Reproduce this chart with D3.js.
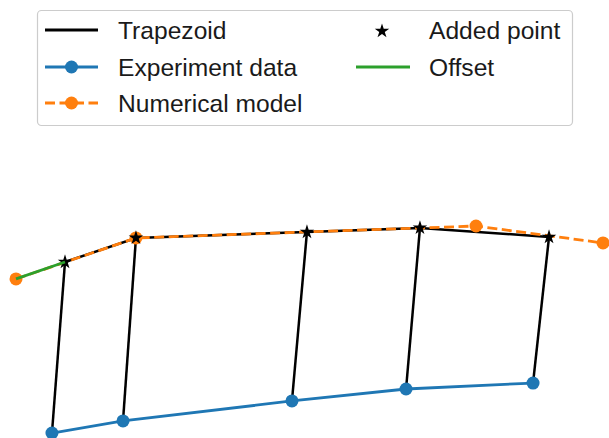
<!DOCTYPE html>
<html>
<head>
<meta charset="utf-8">
<script src="https://cdn.jsdelivr.net/npm/d3@7"></script>
<style>
  body { margin: 0; background: #fff; }
  text { font-family: "Liberation Sans", Arial, sans-serif; }
</style>
</head>
<body>
<div id="chart"></div>
<script>
// data (arbitrary length units, y up)
var experimentX = [3.67, 10.92, 28.16, 39.80, 52.76];
var experimentY = [0.10, 1.33, 3.37, 4.59, 5.20];

var addedX = [5.00, 12.24, 29.69, 41.22, 54.39];
var addedY = [17.55, 20.00, 20.61, 21.02, 20.10];

var modelX = [0.00, 12.24, 46.94, 59.90];
var modelY = [15.82, 20.00, 21.22, 19.49];

var offsetX = [0.00, 5.00];
var offsetY = [15.82, 17.55];

var legendLabels = ["Trapezoid", "Experiment data", "Numerical model", "Added point", "Offset"];

var svgWidth = 609;
var svgHeight = 438;

var svg = d3.select("#chart")
    .append("svg")
    .attr("width", svgWidth)
    .attr("height", svgHeight);

var xScale = d3.scaleLinear()
    .domain([0, 60])
    .range([16, 604]);

var yScale = d3.scaleLinear()
    .domain([0, 21.2])
    .range([434, 226.2]);

var zip = (xs, ys) => xs.map((x, i) => [x, ys[i]]);
var line = d3.line().x(d => xScale(d[0])).y(d => yScale(d[1]));

var experiment = zip(experimentX, experimentY);
var added = zip(addedX, addedY);
var model = zip(modelX, modelY);
var offset = zip(offsetX, offsetY);

var blue = "#1f77b4", orange = "#ff7f0e", green = "#2ca02c";

// trapezoid: top edge + the verticals
var trap = svg.append("g");
trap.append("path")
    .attr("d", line(added))
    .attr("fill", "none")
    .attr("stroke", "black")
    .attr("stroke-width", 2.5);
added.forEach(function(p, i) {
    trap.append("path")
        .attr("d", line([p, experiment[i]]))
        .attr("fill", "none")
        .attr("stroke", "black")
        .attr("stroke-width", 2.5);
});

// experiment data
svg.append("path")
    .attr("d", line(experiment))
    .attr("fill", "none")
    .attr("stroke", blue)
    .attr("stroke-width", 2.8);
svg.selectAll(".exp")
    .data(experiment)
    .enter()
    .append("circle")
    .attr("cx", d => xScale(d[0]))
    .attr("cy", d => yScale(d[1]))
    .attr("r", 6.5)
    .attr("fill", blue);

// numerical model
svg.append("path")
    .attr("d", line(model))
    .attr("fill", "none")
    .attr("stroke", orange)
    .attr("stroke-width", 2.8)
    .attr("stroke-dasharray", "10,4.5");
svg.selectAll(".mod")
    .data(model)
    .enter()
    .append("circle")
    .attr("cx", d => xScale(d[0]))
    .attr("cy", d => yScale(d[1]))
    .attr("r", 6.5)
    .attr("fill", orange);

// added points
var star = d3.symbol().type(d3.symbolStar).size(65);
svg.selectAll(".star")
    .data(added)
    .enter()
    .append("path")
    .attr("d", star)
    .attr("transform", d => `translate(${xScale(d[0])},${yScale(d[1])})`)
    .attr("fill", "black");

// offset
svg.append("path")
    .attr("d", line(offset))
    .attr("fill", "none")
    .attr("stroke", green)
    .attr("stroke-width", 2.8);

// legend
var legend = svg.append("g");
legend.append("rect")
    .attr("x", 37.5)
    .attr("y", 10.5)
    .attr("width", 535)
    .attr("height", 115)
    .attr("rx", 4)
    .attr("fill", "white")
    .attr("stroke", "#cccccc")
    .attr("stroke-width", 1.2);

var rows = [30, 67, 103];
function label(x, y, t) {
    legend.append("text")
        .attr("x", x)
        .attr("y", y + 8.8)
        .attr("font-size", 24.6)
        .attr("fill", "#1a1a1a")
        .text(t);
}
function handle(x1, x2, y, color, dash) {
    legend.append("line")
        .attr("x1", x1).attr("x2", x2)
        .attr("y1", y).attr("y2", y)
        .attr("stroke", color)
        .attr("stroke-width", 3)
        .attr("stroke-dasharray", dash || null);
}

handle(45, 98, rows[0], "black");
label(118, rows[0], legendLabels[0]);

handle(45, 98, rows[1], blue);
legend.append("circle").attr("cx", 71.5).attr("cy", rows[1]).attr("r", 6.5).attr("fill", blue);
label(118, rows[1], legendLabels[1]);

handle(45, 98, rows[2], orange, "10,4.5");
legend.append("circle").attr("cx", 71.5).attr("cy", rows[2]).attr("r", 6.5).attr("fill", orange);
label(118, rows[2], legendLabels[2]);

legend.append("path")
    .attr("d", star)
    .attr("transform", `translate(382,${rows[0] + 1})`)
    .attr("fill", "black");
label(429, rows[0], legendLabels[3]);

handle(356, 410, rows[1], green);
label(429, rows[1], legendLabels[4]);
</script>
</body>
</html>
